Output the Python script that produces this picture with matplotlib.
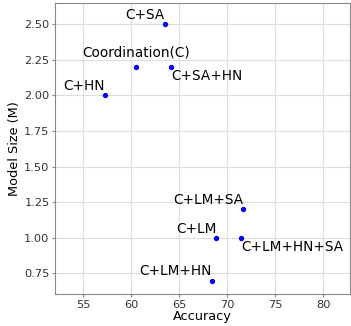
import matplotlib
matplotlib.use("Agg")
from matplotlib import pyplot as plt

models = ["C+SA", "Coordination(C)", "C+SA+HN", "C+HN",
          "C+LM+SA", "C+LM", "C+LM+HN+SA", "C+LM+HN"]
accuracy = [63.5, 60.5, 64.2, 57.3, 71.7, 68.9, 71.5, 68.4]
model_size = [2.5, 2.2, 2.2, 2.0, 1.2, 1.0, 1.0, 0.7]
# label placement per point (horizontal, vertical, offset in points)
align = [("right", "bottom", 1.5), ("center", "bottom", 5.5), ("left", "top", -1.5),
         ("right", "bottom", 1.5), ("right", "bottom", 1.5), ("right", "bottom", 1.5),
         ("left", "top", -1.5), ("right", "bottom", 1.5)]

fig = plt.figure(figsize=(3.51, 3.26), dpi=100)
ax = fig.add_axes([0.157, 0.098, 0.84, 0.893])

ax.scatter(accuracy, model_size, color="blue", s=8, zorder=3)
for name, x, y, (ha, va, dy) in zip(models, accuracy, model_size, align):
    ax.annotate(name, (x, y), xytext=(0, dy), textcoords="offset points",
                ha=ha, va=va, fontsize=9.8, color="black")

ax.set_xlim(52.1, 82.8)
ax.set_ylim(0.605, 2.65)
ax.set_xticks([55, 60, 65, 70, 75, 80])
ax.set_yticks([0.75, 1.0, 1.25, 1.5, 1.75, 2.0, 2.25, 2.5])
ax.yaxis.set_major_formatter(matplotlib.ticker.FormatStrFormatter("%.2f"))
ax.grid(True, color="#dddddd", linewidth=0.8)
ax.set_axisbelow(True)
for s in ax.spines.values():
    s.set_color("#888888")
ax.tick_params(labelsize=8.2, colors="#333333", length=2, pad=2, color="#888888")
ax.set_xlabel("Accuracy", fontsize=9.3, labelpad=0.5)
ax.set_ylabel("Model Size (M)", fontsize=9.3, labelpad=2)

fig.savefig("out.png", dpi=100)
